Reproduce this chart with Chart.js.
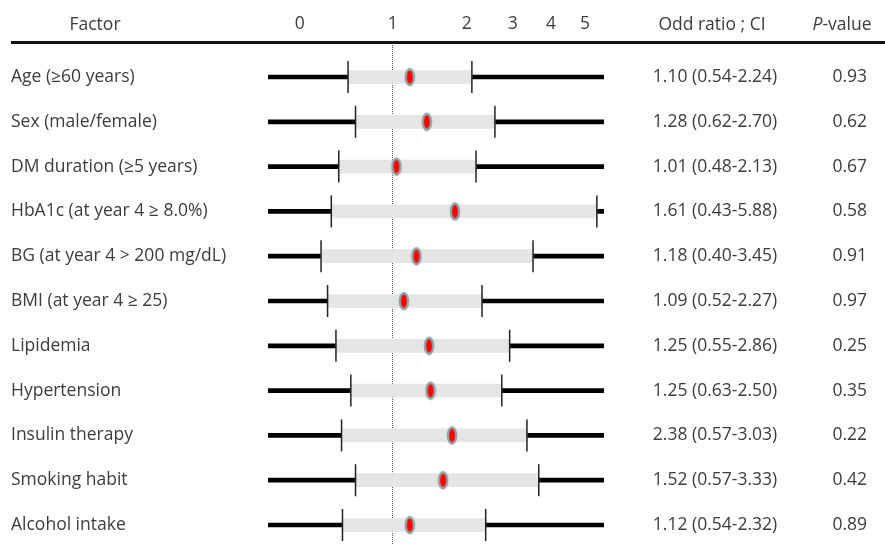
<!DOCTYPE html>
<html>
<head>
<meta charset="utf-8">
<script src="https://cdn.jsdelivr.net/npm/chart.js@4/dist/chart.umd.min.js"></script>
<style>
  body { margin: 0; background: #fff; }
</style>
</head>
<body>
<canvas id="forest" width="885" height="544"></canvas>
<script>
// --- DATA (bar positions) ---
const factors = [
    'Age (≥60 years)', 'Sex (male/female)', 'DM duration (≥5 years)',
    'HbA1c (at year 4 ≥ 8.0%)', 'BG (at year 4 > 200 mg/dL)', 'BMI (at year 4 ≥ 25)',
    'Lipidemia', 'Hypertension', 'Insulin therapy', 'Smoking habit', 'Alcohol intake'
];
const oddRatio = [1.23, 1.46, 1.05, 1.84, 1.32, 1.15, 1.49, 1.51, 1.80, 1.68, 1.23];
const ciLow    = [0.52, 0.60, 0.42, 0.34, 0.23, 0.30, 0.39, 0.55, 0.45, 0.60, 0.46];
const ciHigh   = [2.11, 2.61, 2.20, 5.35, 3.53, 2.33, 2.93, 2.76, 3.37, 3.68, 2.41];
const ciText = [
    '1.10 (0.54-2.24)', '1.28 (0.62-2.70)', '1.01 (0.48-2.13)', '1.61 (0.43-5.88)',
    '1.18 (0.40-3.45)', '1.09 (0.52-2.27)', '1.25 (0.55-2.86)', '1.25 (0.63-2.50)',
    '2.38 (0.57-3.03)', '1.52 (0.57-3.33)', '1.12 (0.54-2.32)'
];
const pValues = ['0.93', '0.62', '0.67', '0.58', '0.91', '0.97', '0.25', '0.35', '0.22', '0.42', '0.89'];
const xTicks = [0, 1, 2, 3, 4, 5];

// axis is hand spaced: relative gap between consecutive ticks
const tickGaps = [93, 74, 46, 38, 34];
const axisMin = -0.34, axisMax = 5.56;

const textColor = '#3c3c3c';
const fontFamily = "'Open Sans', sans-serif";
const fontSize = 17.5;

// piecewise position along the tick gaps
function axisPos(v) {
    if (v <= xTicks[0]) return (v - xTicks[0]) * tickGaps[0];
    let pos = 0;
    for (let k = 0; k < tickGaps.length; k++) {
        const a = xTicks[k], b = xTicks[k + 1];
        if (v <= b || k === tickGaps.length - 1) return pos + (v - a) * tickGaps[k] / (b - a);
        pos += tickGaps[k];
    }
}
function axisValue(p) {
    if (p <= 0) return xTicks[0] + p / tickGaps[0];
    let pos = 0;
    for (let k = 0; k < tickGaps.length; k++) {
        if (p <= pos + tickGaps[k] || k === tickGaps.length - 1) {
            return xTicks[k] + (p - pos) / tickGaps[k] * (xTicks[k + 1] - xTicks[k]);
        }
        pos += tickGaps[k];
    }
}

class GapScale extends Chart.LinearScale {
    static id = 'gap';
    static defaults = Chart.LinearScale.defaults;
    getPixelForValue(value) {
        if (value === null || isNaN(value)) return NaN;
        const a = axisPos(this.min), b = axisPos(this.max);
        return this.getPixelForDecimal((axisPos(value) - a) / (b - a));
    }
    getValueForPixel(pixel) {
        const a = axisPos(this.min), b = axisPos(this.max);
        return axisValue(a + this.getDecimalForPixel(pixel) * (b - a));
    }
}
Chart.register(GapScale);

// red dot with grey rim
function makeDot() {
    const c = document.createElement('canvas');
    c.width = 12; c.height = 20;
    const g = c.getContext('2d');
    g.fillStyle = '#8ea4a7';
    g.beginPath(); g.ellipse(6, 10, 5.3, 9.3, 0, 0, Math.PI * 2); g.fill();
    g.fillStyle = '#ff0000';
    g.beginPath(); g.ellipse(6, 10, 2.9, 6.6, 0, 0, Math.PI * 2); g.fill();
    return c;
}

// header, rule and right hand columns
const tablePlugin = {
    id: 'tableText',
    afterDraw(chart) {
        const ctx = chart.ctx;
        const y = chart.scales.y;
        const font = fontSize + 'px ' + fontFamily;
        const italic = 'italic ' + font;
        ctx.save();
        ctx.fillStyle = textColor;
        ctx.font = font;
        ctx.textBaseline = 'middle';
        ctx.textAlign = 'center';
        ctx.fillText('Factor', 95, 25);
        ctx.fillText('Odd ratio ; CI', 712, 25);

        // P-value header, P in italics
        ctx.textAlign = 'left';
        ctx.font = italic;
        const wP = ctx.measureText('P').width;
        ctx.font = font;
        const wRest = ctx.measureText('-value').width;
        let x0 = 842 - (wP + wRest) / 2;
        ctx.font = italic;
        ctx.fillText('P', x0, 25);
        ctx.font = font;
        ctx.fillText('-value', x0 + wP, 25);

        factors.forEach((f, i) => {
            const py = y.getPixelForValue(i);
            ctx.textAlign = 'center';
            ctx.fillText(ciText[i], 715, py);
            ctx.textAlign = 'right';
            ctx.fillText(pValues[i], 867, py);
        });

        ctx.strokeStyle = '#111';
        ctx.lineWidth = 3;
        ctx.beginPath();
        ctx.moveTo(11, 42.5);
        ctx.lineTo(885, 42.5);
        ctx.stroke();
        ctx.restore();
    }
};

const rows = factors.map((f, i) => i);

new Chart(document.getElementById('forest'), {
    type: 'bar',
    data: {
        datasets: [
            {
                type: 'scatter',
                data: rows.map(i => ({ x: oddRatio[i], y: i })),
                pointStyle: makeDot(),
                order: 1
            },
            {
                type: 'scatter',
                data: rows.flatMap(i => [{ x: ciLow[i], y: i }, { x: ciHigh[i], y: i }]),
                pointStyle: 'line',
                rotation: 90,
                pointRadius: 16,
                borderWidth: 1.5,
                borderColor: '#222',
                order: 2
            },
            {
                indexAxis: 'y',
                data: rows.map(i => ({ x: [ciLow[i], ciHigh[i]], y: i })),
                backgroundColor: '#e5e5e5',
                barThickness: 13,
                grouped: false,
                order: 3
            },
            {
                indexAxis: 'y',
                data: rows.map(i => ({ x: [axisMin, axisMax], y: i })),
                backgroundColor: '#000',
                barThickness: 4,
                grouped: false,
                order: 4
            }
        ]
    },
    options: {
        responsive: false,
        animation: false,
        events: [],
        layout: { autoPadding: false, padding: { left: 11, right: 281, top: 0, bottom: 0 } },
        plugins: { legend: { display: false }, tooltip: { enabled: false } },
        scales: {
            x: {
                type: 'gap',
                position: 'top',
                min: axisMin,
                max: axisMax,
                offset: false,
                beginAtZero: false,
                afterBuildTicks: s => { s.ticks = xTicks.map(v => ({ value: v })); },
                afterFit: s => { s.height = 43; s.paddingLeft = 0; s.paddingRight = 0; },
                ticks: {
                    autoSkip: false,
                    maxRotation: 0,
                    padding: 8,
                    color: textColor,
                    font: { family: fontFamily, size: fontSize },
                    callback: v => String(v)
                },
                grid: {
                    offset: false,
                    drawTicks: false,
                    lineWidth: 1,
                    color: c => (c.tick && c.tick.value === 1) ? '#555' : 'rgba(0,0,0,0)'
                },
                border: { display: false, dash: [1, 1] }
            },
            y: {
                type: 'linear',
                reverse: true,
                min: -0.759,
                max: 10.424,
                offset: false,
                beginAtZero: false,
                afterBuildTicks: s => { s.ticks = rows.map(v => ({ value: v })); },
                afterFit: s => { s.width = 257; s.paddingTop = 0; s.paddingBottom = 0; },
                ticks: {
                    crossAlign: 'far',
                    autoSkip: false,
                    color: textColor,
                    font: { family: fontFamily, size: fontSize },
                    callback: v => factors[v]
                },
                grid: { display: false },
                border: { display: false }
            }
        }
    },
    plugins: [tablePlugin]
});
</script>
</body>
</html>
